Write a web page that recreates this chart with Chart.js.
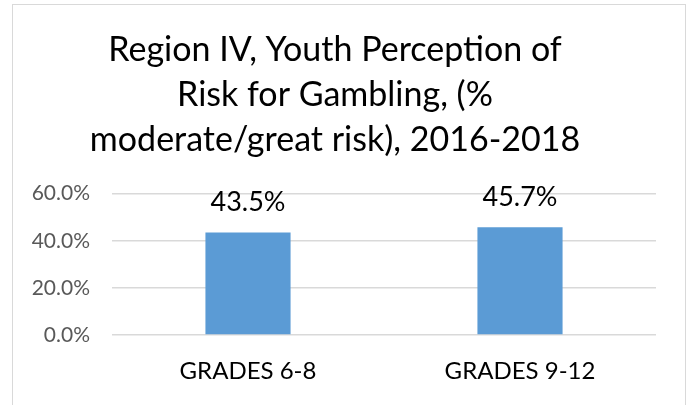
<!DOCTYPE html>
<html>
<head>
<meta charset="utf-8">
<script src="https://cdn.jsdelivr.net/npm/chart.js@4"></script>
<style>
    html, body { margin: 0; padding: 0; background: #fff; }
    #marco { position: absolute; left: 12px; top: 4px; width: 672px; height: 420px; border: 1px solid #d9d9d9; pointer-events: none; }
    #grafico { position: absolute; left: 0; top: 0; }
</style>
</head>
<body>
<canvas id="grafico" width="688" height="405"></canvas>
<div id="marco"></div>
<script>
// Datos del gráfico.
const CATEGORIAS = ['GRADES 6-8', 'GRADES 9-12'];
const PORCENTAJES = [43.5, 45.7];
const TITULO = ['Region IV, Youth Perception of', 'Risk for Gambling, (%', 'moderate/great risk), 2016-2018'];
const FUENTE = 'Lato, "Open Sans", sans-serif';

// Plugin para escribir el valor encima de cada barra.
const etiquetasBarras = {
    id: 'etiquetasBarras',
    afterDatasetsDraw(chart) {
        const ctx = chart.ctx;
        ctx.save();
        ctx.font = `27px ${FUENTE}`;
        ctx.fillStyle = '#000';
        ctx.textAlign = 'center';
        ctx.textBaseline = 'bottom';
        chart.getDatasetMeta(0).data.forEach((bar, i) => {
            ctx.fillText(PORCENTAJES[i].toFixed(1) + '%', bar.x, bar.y - 17);
        });
        ctx.restore();
    }
};

document.addEventListener('DOMContentLoaded', () => {
    const ctx = document.getElementById('grafico').getContext('2d');
    new Chart(ctx, {
        type: 'bar',
        data: {
            labels: CATEGORIAS,
            datasets: [{
                data: PORCENTAJES,
                backgroundColor: '#5b9bd5',
                barPercentage: 1,
                categoryPercentage: 0.313
            }]
        },
        options: {
            responsive: false,
            animation: false,
            layout: { padding: { left: 14, right: 32, top: 0, bottom: 0 } },
            plugins: {
                legend: { display: false },
                tooltip: { enabled: false },
                title: {
                    display: true,
                    text: TITULO,
                    color: '#000',
                    font: { family: FUENTE, size: 34, weight: 'normal', lineHeight: 1.32 },
                    padding: { top: 28, bottom: 31 }
                }
            },
            scales: {
                x: {
                    grid: { display: false },
                    border: { display: false },
                    ticks: { color: '#000', font: { family: FUENTE, size: 24 }, padding: 14 },
                    afterFit: (scale) => { scale.height = 70; }
                },
                y: {
                    min: 0,
                    max: 60,
                    ticks: {
                        stepSize: 20,
                        color: '#595959',
                        font: { family: FUENTE, size: 21 },
                        padding: 22,
                        callback: (valor) => valor.toFixed(1) + '%'
                    },
                    grid: { color: '#d9d9d9', lineWidth: 1.5, drawTicks: false },
                    border: { display: false },
                    afterFit: (scale) => { scale.width = 98; }
                }
            }
        },
        plugins: [etiquetasBarras]
    });
});
</script>
</body>
</html>
